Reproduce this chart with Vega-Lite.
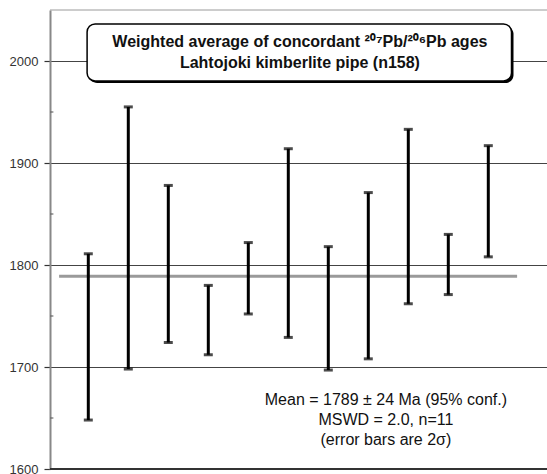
{
  "$schema": "https://vega.github.io/schema/vega-lite/v6.json",
  "autosize": "none",
  "width": 497,
  "height": 459,
  "padding": {"left": 50, "top": 10, "right": 0, "bottom": 5},
  "background": "white",
  "config": {"view": {"stroke": null}, "font": "Liberation Sans"},
  "layer": [
    {
      "data": {"values": [{"y": 2050}]},
      "mark": {"type": "rule", "color": "#9a9a9a", "strokeWidth": 1},
      "encoding": {
        "y": {"field": "y", "type": "quantitative",
          "scale": {"domain": [1600, 2050], "nice": false, "zero": false},
          "axis": {
            "values": [1600, 1700, 1800, 1900, 2000],
            "format": "d",
            "title": null,
            "grid": true,
            "gridColor": "#444",
            "gridWidth": 1,
            "domainColor": "#888",
            "domainWidth": 2,
            "tickColor": "#333",
            "tickSize": 6,
            "tickWidth": 1.2,
            "labelFontSize": 13,
            "labelColor": "#333",
            "labelPadding": 6,
            "labelFont": "Liberation Sans"
          }
        }
      }
    },
    {
      "data": {"values": [{"y": 1600}]},
      "mark": {"type": "rule", "color": "#333", "strokeWidth": 2},
      "encoding": {"y": {"field": "y", "type": "quantitative"}}
    },
    {
      "data": {"values": [{"m": 1789, "a": 0.27, "b": 11.72}]},
      "mark": {"type": "rule", "color": "#9a9a9a", "strokeWidth": 3},
      "encoding": {
        "y": {"field": "m", "type": "quantitative"},
        "x": {"field": "a", "type": "quantitative",
          "scale": {"domain": [0.0425, 12.4675], "nice": false, "zero": false},
          "axis": null},
        "x2": {"field": "b"}
      }
    },
    {
      "data": {"values": [
        {"i": 1, "lo": 1648, "hi": 1811},
        {"i": 2, "lo": 1698, "hi": 1955},
        {"i": 3, "lo": 1724, "hi": 1878},
        {"i": 4, "lo": 1712, "hi": 1780},
        {"i": 5, "lo": 1752, "hi": 1822},
        {"i": 6, "lo": 1729, "hi": 1914},
        {"i": 7, "lo": 1697, "hi": 1818},
        {"i": 8, "lo": 1708, "hi": 1871},
        {"i": 9, "lo": 1762, "hi": 1933},
        {"i": 10, "lo": 1771, "hi": 1830},
        {"i": 11, "lo": 1808, "hi": 1917}
      ]},
      "mark": {"type": "rule", "color": "black", "strokeWidth": 3},
      "encoding": {
        "x": {"field": "i", "type": "quantitative"},
        "y": {"field": "lo", "type": "quantitative"},
        "y2": {"field": "hi"}
      }
    },
    {
      "data": {"values": [
        {"i": 1, "v": 1648}, {"i": 1, "v": 1811},
        {"i": 2, "v": 1698}, {"i": 2, "v": 1955},
        {"i": 3, "v": 1724}, {"i": 3, "v": 1878},
        {"i": 4, "v": 1712}, {"i": 4, "v": 1780},
        {"i": 5, "v": 1752}, {"i": 5, "v": 1822},
        {"i": 6, "v": 1729}, {"i": 6, "v": 1914},
        {"i": 7, "v": 1697}, {"i": 7, "v": 1818},
        {"i": 8, "v": 1708}, {"i": 8, "v": 1871},
        {"i": 9, "v": 1762}, {"i": 9, "v": 1933},
        {"i": 10, "v": 1771}, {"i": 10, "v": 1830},
        {"i": 11, "v": 1808}, {"i": 11, "v": 1917}
      ]},
      "mark": {"type": "tick", "color": "black", "orient": "horizontal", "size": 9, "thickness": 3},
      "encoding": {
        "x": {"field": "i", "type": "quantitative"},
        "y": {"field": "v", "type": "quantitative"}
      }
    },
    {
      "data": {"values": [{"x1": 1.02, "x2": 11.63, "y1": 2034.3, "y2": 1978.4}]},
      "mark": {"type": "rect", "fill": "black", "cornerRadius": 8},
      "encoding": {
        "x": {"field": "x1", "type": "quantitative"},
        "x2": {"field": "x2"},
        "y": {"field": "y1", "type": "quantitative"},
        "y2": {"field": "y2"}
      }
    },
    {
      "data": {"values": [{"x1": 0.97, "x2": 11.58, "y1": 2036.3, "y2": 1980.4}]},
      "mark": {"type": "rect", "fill": "white", "stroke": "black", "strokeWidth": 1.5, "cornerRadius": 8},
      "encoding": {
        "x": {"field": "x1", "type": "quantitative"},
        "x2": {"field": "x2"},
        "y": {"field": "y1", "type": "quantitative"},
        "y2": {"field": "y2"}
      }
    },
    {
      "data": {"values": [
        {"t": "Weighted average of concordant ²⁰⁷Pb/²⁰⁶Pb ages", "y": 2014, "x": 6.29},
        {"t": "Lahtojoki kimberlite pipe (n158)", "y": 1992.8, "x": 6.29}
      ]},
      "mark": {"type": "text", "fontSize": 16, "fontWeight": "bold", "align": "center", "baseline": "alphabetic", "color": "#111", "font": "Liberation Sans"},
      "encoding": {
        "x": {"field": "x", "type": "quantitative"},
        "y": {"field": "y", "type": "quantitative"},
        "text": {"field": "t"}
      }
    },
    {
      "data": {"values": [
        {"t": "Mean = 1789 ± 24 Ma (95% conf.)", "y": 1662.7, "x": 8.44},
        {"t": "MSWD = 2.0, n=11", "y": 1643.1, "x": 8.44},
        {"t": "(error bars are 2σ)", "y": 1623.5, "x": 8.44}
      ]},
      "mark": {"type": "text", "fontSize": 16, "align": "center", "baseline": "alphabetic", "color": "#111", "font": "Liberation Sans"},
      "encoding": {
        "x": {"field": "x", "type": "quantitative"},
        "y": {"field": "y", "type": "quantitative"},
        "text": {"field": "t"}
      }
    },
    {
      "data": {"values": [{"x": 0.09, "v": 1650}, {"x": 0.09, "v": 1750}, {"x": 0.09, "v": 1850}, {"x": 0.09, "v": 1950}]},
      "mark": {"type": "tick", "color": "#555", "orient": "horizontal", "size": 3, "thickness": 1.5},
      "encoding": {
        "x": {"field": "x", "type": "quantitative"},
        "y": {"field": "v", "type": "quantitative"}
      }
    }
  ]
}
